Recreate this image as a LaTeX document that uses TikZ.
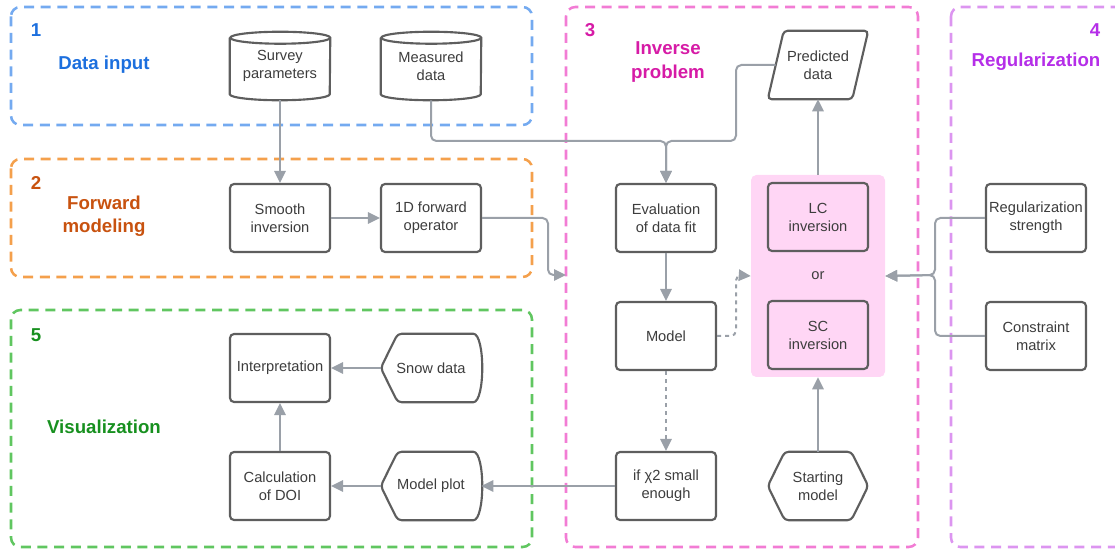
\documentclass[tikz,border=0pt]{standalone}
\usepackage{fontspec}
\setmainfont{Liberation Sans}
\usetikzlibrary{arrows.meta}

\definecolor{boxgray}{HTML}{5E5E5E}
\definecolor{txtgray}{HTML}{3D3D3D}
\definecolor{linkgray}{HTML}{9AA0A8}
\definecolor{invpink}{HTML}{FFD6F5}
\definecolor{blueframe}{HTML}{74AAF0}
\definecolor{bluetext}{HTML}{1C6FDE}
\definecolor{orangeframe}{HTML}{F4A04C}
\definecolor{orangetext}{HTML}{C8520F}
\definecolor{pinkframe}{HTML}{F27CD4}
\definecolor{pinktext}{HTML}{D61BA6}
\definecolor{purpleframe}{HTML}{DC95F0}
\definecolor{purpletext}{HTML}{B52EE8}
\definecolor{greenframe}{HTML}{60C660}
\definecolor{greentext}{HTML}{17901F}

\begin{document}
\begin{tikzpicture}[x=0.75pt,y=-0.75pt,>={Triangle[length=9pt,width=8.5pt]},node distance=113.25pt,font=\fontsize{11}{13.5}\selectfont]
  \tikzstyle{box}=[draw=boxgray,line width=1.6pt,rounded corners=3pt,fill=white,text=txtgray,align=center,minimum width=75pt,minimum height=51pt,inner sep=2pt]
  \tikzstyle{bare}=[text=txtgray,align=center,minimum width=75pt,minimum height=51pt,inner sep=2pt]
  \tikzstyle{rim}=[draw=boxgray,line width=1.6pt,rounded corners=3pt]
  \tikzstyle{link}=[draw=linkgray,line width=1.5pt,rounded corners=4pt]
  \tikzstyle{frame}=[line width=1.9pt,rounded corners=7pt,dash pattern=on 7.5pt off 5pt]
  \tikzstyle{title}=[font=\bfseries\fontsize{14}{17.5}\selectfont,align=center]

  \useasboundingbox (0,0) rectangle (1115,552);

  % dashed groups
  \draw[frame,blueframe] (11,7) rectangle (532,125);
  \draw[frame,orangeframe] (11,159) rectangle (532,277);
  \draw[frame,greenframe] (11,310) rectangle (532,547);
  \draw[frame,pinkframe] (566,7) rectangle (918,547);
  \draw[frame,purpleframe] (951,7) rectangle (1140,547);

  \node[title,bluetext] (num1) at (36,30) {1};
  \node[title,bluetext] (datainput) at (104,65) {Data input};
  \node[title,orangetext] (num2) at (36,183) {2};
  \node[title,orangetext] (forward) at (104,216) {Forward\\modeling};
  \node[title,greentext] (num5) at (36,335) {5};
  \node[title,greentext] (visual) at (104,427) {Visualization};
  \node[title,pinktext] (num3) at (590,30) {3};
  \node[title,pinktext] (inverse) at (668,62) {Inverse\\problem};
  \node[title,purpletext] (num4) at (1095,30) {4};
  \node[title,purpletext] (regular) at (1036,62) {Regularization};

  % left columns
  \node[bare] (survey) at (280,66) {Survey\\parameters};
  \node[bare] (measured) [right of=survey] {Measured\\data};
  \node[box] (smooth) at (280,218) {Smooth\\inversion};
  \node[box] (fwd) [right of=smooth] {1D forward\\operator};
  \node[box] (interp) at (280,368) {Interpretation};
  \node[bare] (snow) [right of=interp] {Snow data};
  \node[box] (doi) at (280,486) {Calculation\\of DOI};
  \node[bare] (plot) [right of=doi] {Model plot};

  % inverse problem
  \node[box] (eval) at (666,218) {Evaluation\\of data fit};
  \node[box] (model) [below of=eval,node distance=88.5pt] {Model};
  \node[box] (chi) [below of=model,node distance=112.5pt] {if χ2 small\\enough};
  \node[fill=invpink,rounded corners=4pt,text=txtgray,minimum width=100.5pt,minimum height=151.5pt] (inv) at (818,276) {or};
  \node[box,fill=invpink] (lc) at (818,217) {LC\\inversion};
  \node[box,fill=invpink] (sc) [below of=lc,node distance=88.5pt] {SC\\inversion};
  \node[bare] (pred) at (818,65) {Predicted\\data};
  \node[bare] (start) at (818,486) {Starting\\model};

  % regularization
  \node[box] (reg) at (1036,218) {Regularization\\strength};
  \node[box] (constr) [below of=reg,node distance=88.5pt] {Constraint\\matrix};

  % outlines of the odd shapes
  \foreach \c in {survey,measured}
    \draw[rim,rounded corners=0pt] ([yshift=-4.5pt]\c.north west) -- ([yshift=4.5pt]\c.south west)
      arc[start angle=180,end angle=360,x radius=37.5pt,y radius=4.5pt]
      -- ([yshift=-4.5pt]\c.north east)
      arc[start angle=0,end angle=360,x radius=37.5pt,y radius=4.5pt];
  \foreach \d in {snow,plot}
    \draw[rim] (\d.west) -- ([xshift=12.75pt]\d.north west) -- ([xshift=-9pt]\d.north east)
      .. controls ([xshift=3pt]\d.north east) and ([xshift=3pt]\d.south east) .. ([xshift=-9pt]\d.south east)
      -- ([xshift=12.75pt]\d.south west) -- cycle;
  \draw[rim] (start.west) -- ([xshift=12.75pt]start.north west) -- ([xshift=-12.75pt]start.north east)
    -- (start.east) -- ([xshift=-12.75pt]start.south east) -- ([xshift=12.75pt]start.south west) -- cycle;
  \draw[rim] ([xshift=12pt]pred.north west) -- (pred.north east) -- ([xshift=-12pt]pred.south east)
    -- (pred.south west) -- cycle;

  \coordinate (merge) at (666,141);
  \coordinate (predbend) at (736,141);
  \coordinate (fwdbend) at (548,275);
  \coordinate (in3) at (566,275);
  \coordinate (modelbend) at (736,275);
  \coordinate (regbend) at (935,275);

  \draw[link,->] (survey.south) -- (smooth.north);
  \draw[link,->] (measured.south) |- (merge) -- (eval.north);
  \draw[link,->] ([xshift=6pt]pred.west) -| (predbend) -- (merge) -- (eval.north);
  \draw[link,->] (smooth) -- (fwd);
  \draw[link,->] (fwd.east) -| (fwdbend) -- (in3);
  \draw[link,->] (eval) -- (model);
  \draw[link,dashed,->] (model.east) -| (modelbend) -- (inv.west);
  \draw[link,dashed,->] (model) -- (chi);
  \draw[link,->] (chi) -- (plot);
  \draw[link,->] (plot) -- (doi);
  \draw[link,->] (doi) -- (interp);
  \draw[link,->] (snow) -- (interp);
  \draw[link,->] (start) -- (inv);
  \draw[link,->] (inv) -- (pred);
  \draw[link,->] (reg.west) -| (regbend) -- (inv.east);
  \draw[link,->] (constr.west) -| (regbend) -- (inv.east);

\end{tikzpicture}
\end{document}
